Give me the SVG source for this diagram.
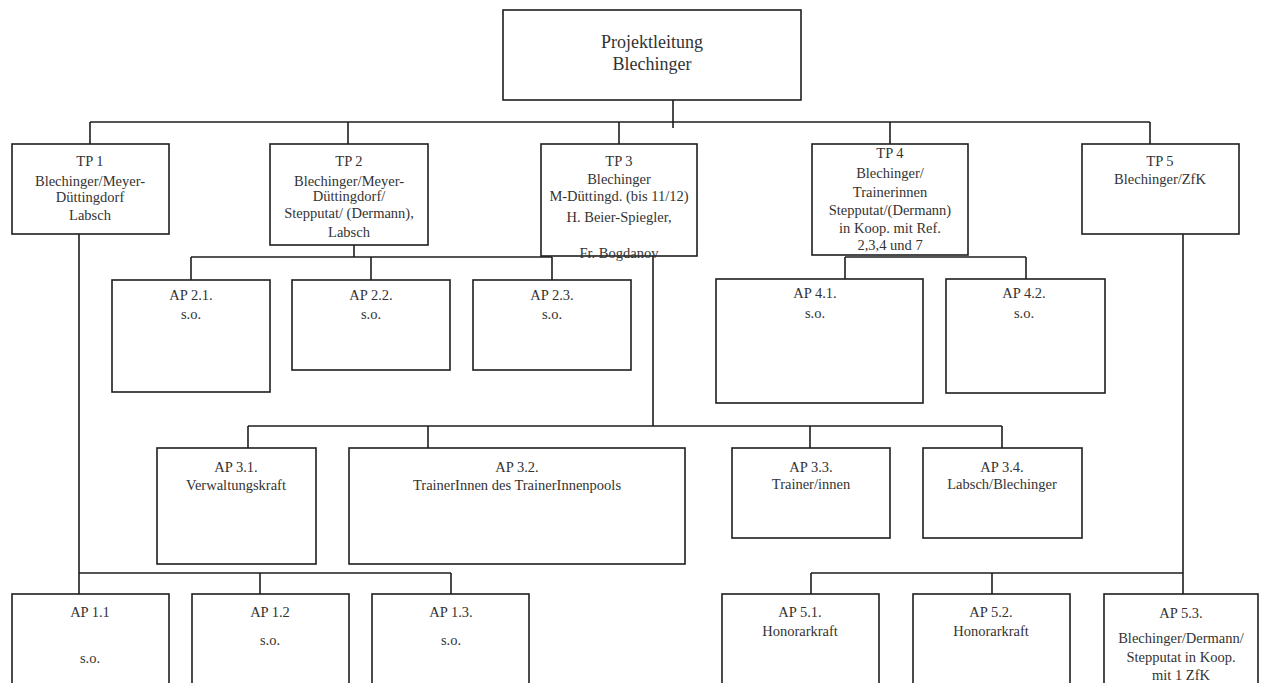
<svg xmlns="http://www.w3.org/2000/svg" width="1262" height="683" viewBox="0 0 1262 683" font-family="'Liberation Serif', 'DejaVu Serif', 'Times New Roman', serif">
<style>
.b{fill:#fff;stroke:#1e1e1e;stroke-width:1.6}
.c{fill:none;stroke:#1e1e1e;stroke-width:1.6}
text{font-family:'Liberation Serif','DejaVu Serif','Times New Roman',serif;font-size:14.5px;fill:#333;text-anchor:middle}
.big{font-size:18px}
</style>
<rect width="1262" height="683" fill="#fff"/>
<g id="connectors">
<path class="c" d="M673 95V128"/>
<path class="c" d="M90 122H1150M90 122V144M348 122V144M619 122V144M890 122V144M1150 122V144"/>
<path class="c" d="M354 245V257M191 257H552M191 257V280M371 257V280M552 257V280"/>
<path class="c" d="M845 257H1026M845 257V280M1026 257V280"/>
<path class="c" d="M653 256V426M248 426H1002M248 426V448M428 426V448M810 426V448M1002 426V448"/>
<path class="c" d="M79 234V573M79 573H451M79 573V594M260 573V594M451 573V594"/>
<path class="c" d="M1183 234V573M811 573H1183M811 573V594M992 573V594M1183 573V594"/>
</g>
<g id="pl"><rect class="b" x="503" y="10" width="298" height="90"/><text class="big" x="652" y="48">Projektleitung</text><text class="big" x="652" y="70">Blechinger</text></g>
<g id="tp1"><rect class="b" x="12" y="144" width="157" height="90"/><text x="90" y="166">TP 1</text><text x="90" y="186">Blechinger/Meyer-</text><text x="90" y="202">Düttingdorf</text><text x="90" y="220">Labsch</text></g>
<g id="tp2"><rect class="b" x="270" y="144" width="158" height="101"/><text x="349" y="166">TP 2</text><text x="349" y="186">Blechinger/Meyer-</text><text x="349" y="201">Düttingdorf/</text><text x="349" y="218">Stepputat/ (Dermann),</text><text x="349" y="237">Labsch</text></g>
<g id="tp3"><rect class="b" x="541" y="144" width="156" height="112"/><text x="619" y="166">TP 3</text><text x="619" y="184">Blechinger</text><text x="619" y="201">M-Düttingd. (bis 11/12)</text><text x="619" y="222">H. Beier-Spiegler,</text><text x="619" y="258">Fr. Bogdanov</text></g>
<g id="tp4"><rect class="b" x="812" y="144" width="156" height="111"/><text x="890" y="158">TP 4</text><text x="890" y="178">Blechinger/</text><text x="890" y="197">Trainerinnen</text><text x="890" y="215">Stepputat/(Dermann)</text><text x="890" y="233">in Koop. mit Ref.</text><text x="890" y="250">2,3,4 und 7</text></g>
<g id="tp5"><rect class="b" x="1082" y="144" width="157" height="90"/><text x="1160" y="166">TP 5</text><text x="1160" y="184">Blechinger/ZfK</text></g>
<g id="ap21"><rect class="b" x="112" y="280" width="158" height="112"/><text x="191" y="300">AP 2.1.</text><text x="191" y="319">s.o.</text></g>
<g id="ap22"><rect class="b" x="292" y="280" width="158" height="90"/><text x="371" y="300">AP 2.2.</text><text x="371" y="319">s.o.</text></g>
<g id="ap23"><rect class="b" x="473" y="280" width="158" height="90"/><text x="552" y="300">AP 2.3.</text><text x="552" y="319">s.o.</text></g>
<g id="ap41"><rect class="b" x="716" y="279" width="207" height="124"/><text x="815" y="298">AP 4.1.</text><text x="815" y="318">s.o.</text></g>
<g id="ap42"><rect class="b" x="946" y="279" width="159" height="114"/><text x="1024" y="298">AP 4.2.</text><text x="1024" y="318">s.o.</text></g>
<g id="ap31"><rect class="b" x="157" y="448" width="159" height="116"/><text x="236" y="472">AP 3.1.</text><text x="236" y="490">Verwaltungskraft</text></g>
<g id="ap32"><rect class="b" x="349" y="448" width="336" height="116"/><text x="517" y="472">AP 3.2.</text><text x="517" y="490">TrainerInnen des TrainerInnenpools</text></g>
<g id="ap33"><rect class="b" x="732" y="448" width="158" height="90"/><text x="811" y="472">AP 3.3.</text><text x="811" y="489">Trainer/innen</text></g>
<g id="ap34"><rect class="b" x="923" y="448" width="159" height="90"/><text x="1002" y="472">AP 3.4.</text><text x="1002" y="489">Labsch/Blechinger</text></g>
<g id="ap11"><rect class="b" x="12" y="594" width="157" height="100"/><text x="90" y="617">AP 1.1</text><text x="90" y="663">s.o.</text></g>
<g id="ap12"><rect class="b" x="192" y="594" width="157" height="100"/><text x="270" y="617">AP 1.2</text><text x="270" y="645">s.o.</text></g>
<g id="ap13"><rect class="b" x="372" y="594" width="157" height="100"/><text x="451" y="617">AP 1.3.</text><text x="451" y="645">s.o.</text></g>
<g id="ap51"><rect class="b" x="722" y="594" width="157" height="100"/><text x="800" y="617">AP 5.1.</text><text x="800" y="636">Honorarkraft</text></g>
<g id="ap52"><rect class="b" x="913" y="594" width="157" height="100"/><text x="991" y="617">AP 5.2.</text><text x="991" y="636">Honorarkraft</text></g>
<g id="ap53"><rect class="b" x="1104" y="594" width="154" height="100"/><text x="1181" y="618">AP 5.3.</text><text x="1181" y="643">Blechinger/Dermann/</text><text x="1181" y="662">Stepputat in Koop.</text><text x="1181" y="680">mit 1 ZfK</text></g>
</svg>
